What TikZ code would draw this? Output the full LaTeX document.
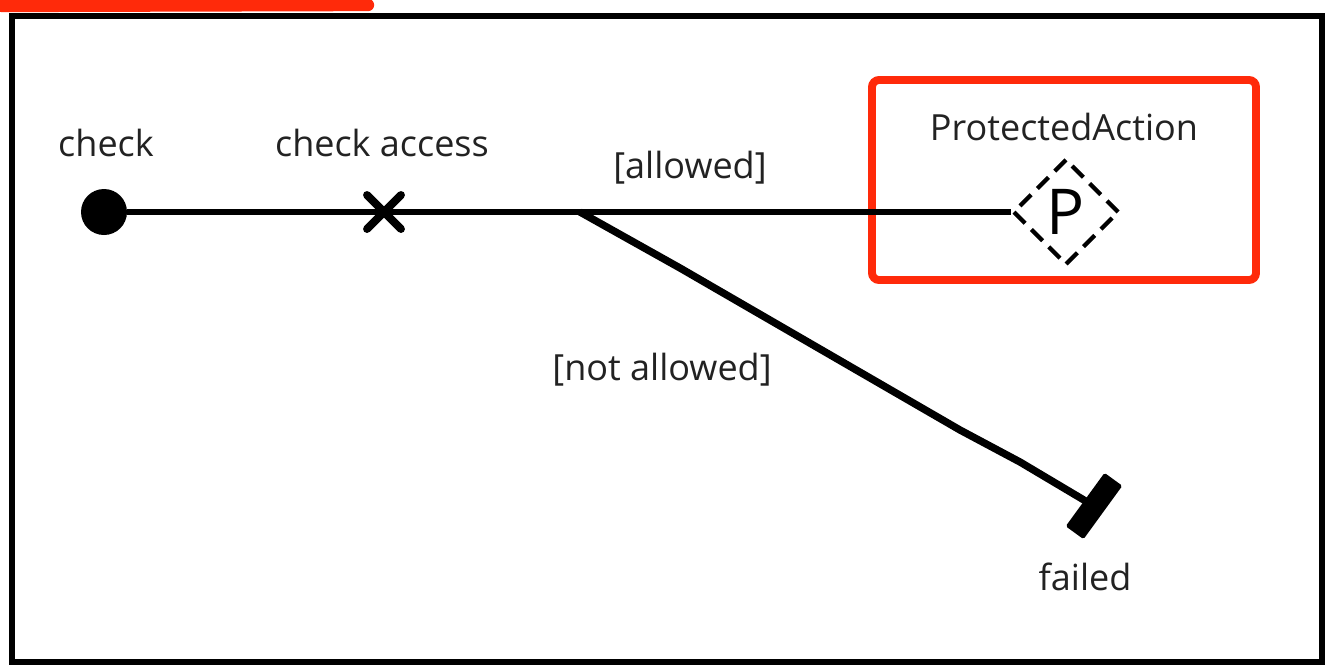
\documentclass[tikz,border=0pt]{standalone}
\usepackage{fontspec}
\setmainfont{Open Sans}
\usetikzlibrary{shapes.geometric,calc}
\definecolor{txt}{HTML}{222222}
\definecolor{redmark}{HTML}{FF2A0A}
\tikzset{
  lbl/.style={text=txt,font=\fontsize{20.5}{24}\selectfont,inner sep=0pt},
  conn/.style={line width=3.6pt},
  frame/.style={line width=3pt},
  hilite/.style={draw=redmark,line width=4.5pt,rounded corners=4pt},
}
\begin{document}
\begin{tikzpicture}[x=0.02cm,y=-0.02cm]
\useasboundingbox (0,0) rectangle (1327,667);
% frame
\draw[frame] (12,16) rectangle (1322,662);
% red marker strokes
\draw[draw=redmark,line width=7pt,line cap=round] (2,6) -- (368,5);
\draw[hilite] (872,80) rectangle (1256,280);
% nodes
\node[circle,fill=black,minimum size=46*0.02cm,inner sep=0pt] (start) at (104,212) {};
\coordinate (cross) at (384,212);
\coordinate (fork) at (580,212);
\node[diamond,draw,line width=2.4pt,dash pattern=on 9pt off 5pt,minimum width=106*0.02cm,minimum height=106*0.02cm,inner sep=0pt,font=\fontsize{36}{38}\selectfont] (pa) at (1066,212) {P};
\coordinate (bend1) at (680,268);
\coordinate (bend2) at (960,430);
\coordinate (bend3) at (1020,462);
\node[fill=black,minimum width=66*0.02cm,minimum height=22*0.02cm,inner sep=0pt,rotate=54,rounded corners=1pt] (fin) at (1094,506) {};
% connectors
\draw[conn] (start) -- (pa.west);
\draw[line width=4.5pt,line cap=round] ($(cross)+(-17,-17)$) -- ($(cross)+(17,17)$);
\draw[line width=4.5pt,line cap=round] ($(cross)+(-17,17)$) -- ($(cross)+(17,-17)$);
\draw[line width=4.2pt,line join=round] (fork) -- (bend1) -- (bend2) -- (bend3) -- (fin.center);
% labels
\node[lbl] (lcheck) at (106,143) {check};
\node[lbl] (lcross) at (382,143) {check access};
\node[lbl] (lallow) at (690,168) {[allowed]};
\node[lbl] (lpa) at (1064,127) {ProtectedAction};
\node[lbl] (lnot) at (662,370) {[not allowed]};
\node[lbl] (lfail) at (1085,577) {failed};
\end{tikzpicture}
\end{document}
